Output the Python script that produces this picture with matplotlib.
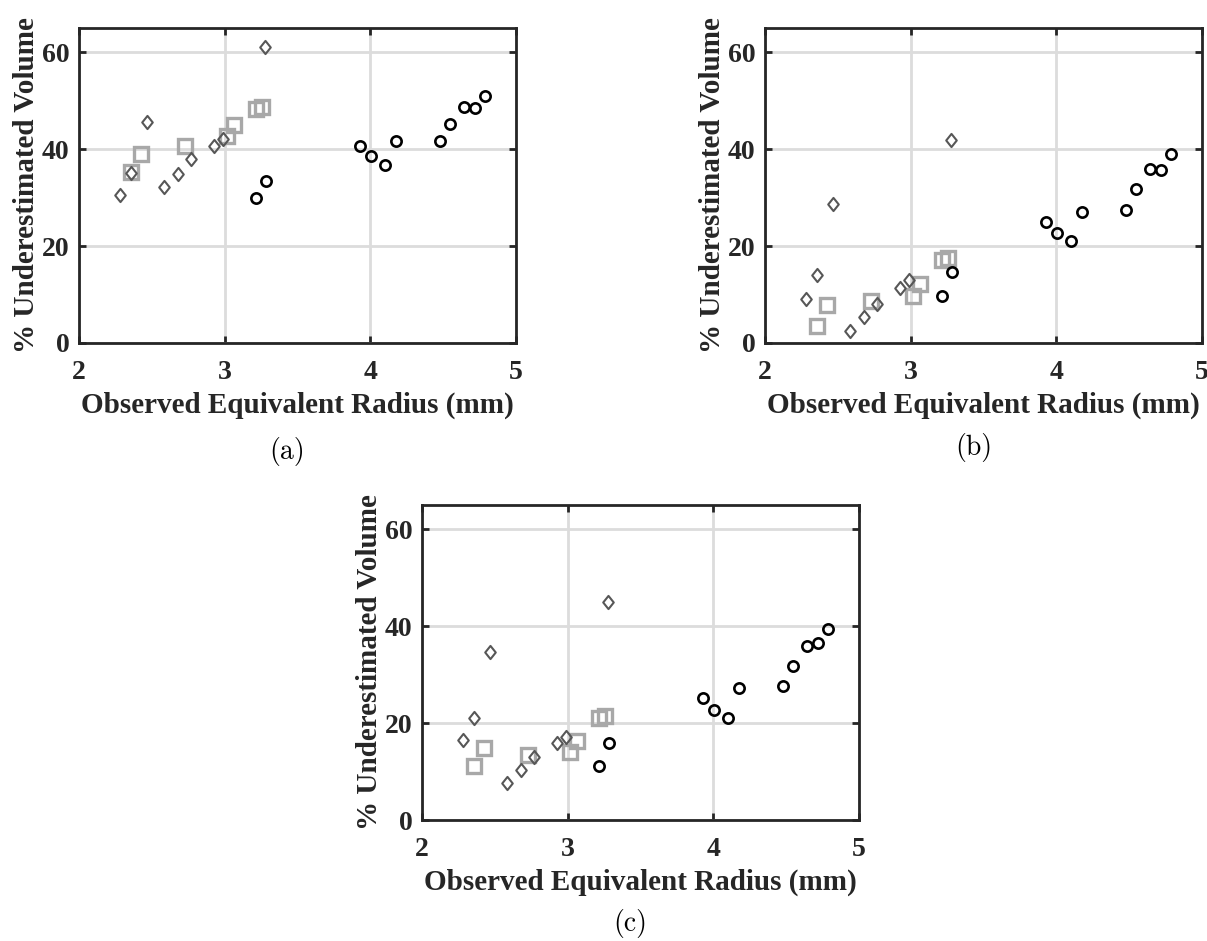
import matplotlib
matplotlib.use("Agg")
import matplotlib.pyplot as plt
from matplotlib.path import Path

# Observed equivalent radius (mm) for each group of bubbles
x_diamond = [2.284, 2.356, 2.466, 2.583, 2.680, 2.770, 2.928, 2.990, 3.274]
x_square = [2.356, 2.425, 2.727, 3.015, 3.067, 3.212, 3.253]
x_circle = [3.212, 3.282, 3.929, 4.005, 4.104, 4.177, 4.480, 4.544, 4.645, 4.716, 4.786]

# % underestimated volume, panel (a)
a_diamond = [30.5, 35.0, 45.5, 32.1, 34.8, 37.9, 40.7, 42.0, 61.0]
a_square = [35.3, 39.0, 40.7, 42.7, 44.9, 48.3, 48.7]
a_circle = [30.0, 33.4, 40.6, 38.5, 36.7, 41.6, 41.6, 45.2, 48.7, 48.4, 50.9]

# panel (b)
b_diamond = [9.1, 14.0, 28.7, 2.4, 5.4, 8.1, 11.4, 12.9, 41.8]
b_square = [3.5, 7.9, 8.7, 9.7, 12.2, 17.2, 17.6]
b_circle = [9.8, 14.6, 25.0, 22.7, 21.1, 27.1, 27.5, 31.8, 35.9, 35.7, 38.9]

# panel (c)
c_diamond = [16.6, 21.0, 34.6, 7.7, 10.3, 12.9, 15.9, 17.1, 45.0]
c_square = [11.1, 14.9, 13.5, 14.0, 16.4, 21.0, 21.5]
c_circle = [11.1, 15.9, 25.2, 22.8, 21.0, 27.2, 27.6, 31.7, 36.0, 36.5, 39.5]

x_ticks = [2, 3, 4, 5]
y_ticks = [0, 20, 40, 60]
x_label = "Observed Equivalent Radius (mm)"
y_label = "% Underestimated Volume"
captions = ["(a)", "(b)", "(c)"]

TXT = "#262626"
serif_bold = dict(family="Liberation Serif", weight="bold", color=TXT)

diamond = Path([(0, 1), (0.8, 0), (0, -1), (-0.8, 0), (0, 1)],
               [Path.MOVETO, Path.LINETO, Path.LINETO, Path.LINETO, Path.CLOSEPOLY])

FW, FH = 1207, 941
fig = plt.figure(figsize=(FW / 100, FH / 100), dpi=100)

W = 437 / FW
H = 315 / FH
# (left px, bottom-edge px from top, caption drop px)
layout = [(79, 343, 109), (765, 343, 105), (422, 820, 103)]
panels = [
    (a_diamond, a_square, a_circle),
    (b_diamond, b_square, b_circle),
    (c_diamond, c_square, c_circle),
]

for (lpx, bpx, drop), (yd, ys, yc), cap in zip(layout, panels, captions):
    left = lpx / FW
    bottom = (FH - bpx) / FH
    ax = fig.add_axes([left, bottom, W, H])
    ax.set_xlim(2, 5)
    ax.set_ylim(0, 65)
    ax.set_xticks(x_ticks)
    ax.set_yticks(y_ticks)
    ax.grid(True, color="#dcdcdc", linewidth=2.0, zorder=0)
    ax.set_axisbelow(True)
    for sp in ax.spines.values():
        sp.set_linewidth(2.0)
        sp.set_color(TXT)
    ax.tick_params(direction="in", length=5, width=2.0, color=TXT,
                   top=True, right=True, labelsize=20, labelcolor=TXT)
    ax.tick_params(axis="x", pad=12)
    ax.tick_params(axis="y", pad=7)
    for lab in ax.get_xticklabels() + ax.get_yticklabels():
        lab.set_family("Liberation Serif")
        lab.set_weight("bold")

    ax.plot(x_square, ys, linestyle="none", marker="s", markersize=9.5,
            markerfacecolor="none", markeredgecolor="#a8a8a8",
            markeredgewidth=2.4, zorder=3)
    ax.plot(x_diamond, yd, linestyle="none", marker=diamond, markersize=9.5,
            markerfacecolor="none", markeredgecolor="#575757",
            markeredgewidth=1.5, zorder=4)
    ax.plot(x_circle, yc, linestyle="none", marker="o", markersize=7.4,
            markerfacecolor="none", markeredgecolor="black",
            markeredgewidth=1.9, zorder=5)

    ax.set_xlabel(x_label, fontsize=21, labelpad=5, **serif_bold)
    ax.set_ylabel(y_label, fontsize=21, labelpad=1, **serif_bold)

    cx = (lpx + 437 / 2 - 10) / FW
    cy = (FH - bpx - drop) / FH
    fig.text(cx, cy, cap, ha="center", va="center",
             fontsize=20, family="cmr10", color="black")

fig.savefig("out.png", dpi=100)
